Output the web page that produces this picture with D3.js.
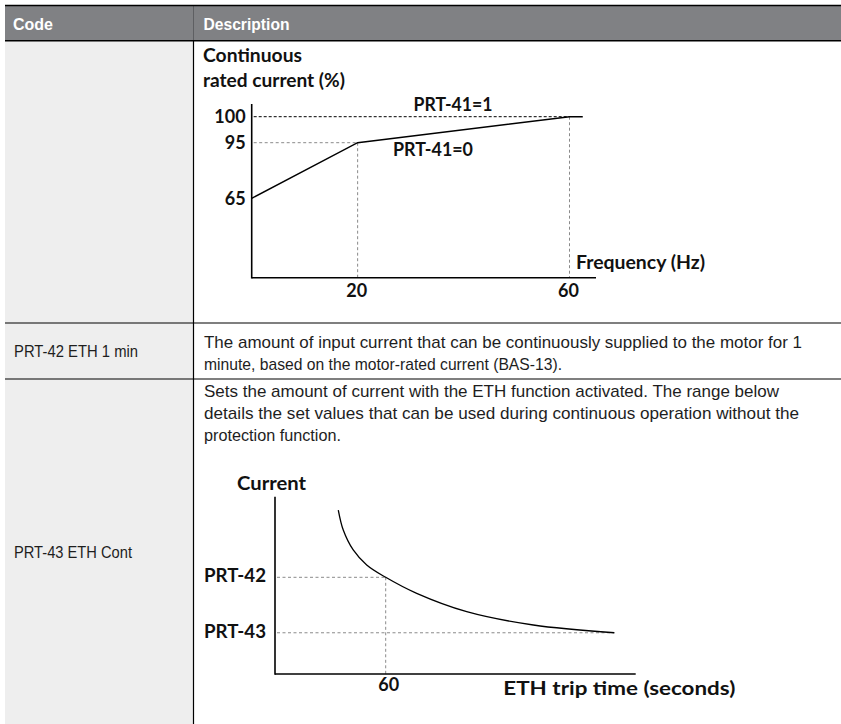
<!DOCTYPE html>
<html>
<head>
<meta charset="utf-8">
<script src="https://cdn.jsdelivr.net/npm/d3@7"></script>
<style>
html,body{margin:0;padding:0;background:#fff;}
svg{display:block;}
</style>
</head>
<body>
<script>
// ---------- DATA ----------
const tableHeaders = ["Code", "Description"];
const rowCodes = ["", "PRT-42 ETH 1 min", "PRT-43 ETH Cont"];
const row2Lines = [
  "The amount of input current that can be continuously supplied to the motor for 1",
  "minute, based on the motor-rated current (BAS-13)."
];
const row3Lines = [
  "Sets the amount of current with the ETH function activated. The range below",
  "details the set values that can be used during continuous operation without the",
  "protection function."
];

// chart 1: continuous rated current vs frequency
const freqHz = [0, 20, 60, 62.5];
const ratedPct = [65, 95, 100, 100];
const chart1YTicks = [65, 95, 100];
const chart1XTicks = [20, 60];
const chart1YTitle = ["Continuous", "rated current (%)"];
const chart1XTitle = "Frequency (Hz)";
const chart1Notes = ["PRT-41=1", "PRT-41=0"];

// chart 2: current vs ETH trip time
const tripTimeSec = [34.3, 37, 42.4, 49.7, 60, 76.8, 103.9, 140, 183.9];
const tripCurrentPct = [186.4, 175.6, 164.8, 156.7, 150, 141.3, 131.4, 124.2, 120];
const chart2YTicks = [150, 120];
const chart2YTickLabels = ["PRT-42", "PRT-43"];
const chart2XTicks = [60];
const chart2YTitle = "Current";
const chart2XTitle = "ETH trip time (seconds)";

// ---------- LAYOUT ----------
const W = 841, H = 724;
const svg = d3.select("body").append("svg").attr("width", W).attr("height", H);

const tableLeft = 5, colX = 193.5;
const headerTop = 5.5, headerBottom = 40.8;
const rowBounds = [headerBottom, 323, 379, H + 2];
const bodyFont = "'Liberation Sans', Arial, sans-serif";
const chartFont = "Lato, 'Open Sans', sans-serif";
const bodySize = 17;

// left column background
svg.append("rect").attr("x", tableLeft).attr("y", headerBottom).attr("width", colX - tableLeft)
  .attr("height", H - headerBottom).attr("fill", "#eeeeee");
// header
svg.append("rect").attr("x", tableLeft).attr("y", headerTop).attr("width", W - tableLeft)
  .attr("height", headerBottom - headerTop).attr("fill", "#808184");
svg.append("line").attr("x1", colX).attr("x2", colX).attr("y1", headerTop).attr("y2", headerBottom)
  .attr("stroke", "#5e5f62").attr("stroke-width", 1);
svg.append("line").attr("x1", tableLeft).attr("x2", W).attr("y1", headerTop).attr("y2", headerTop)
  .attr("stroke", "#000").attr("stroke-width", 1.4);
svg.append("line").attr("x1", tableLeft).attr("x2", W).attr("y1", headerBottom).attr("y2", headerBottom)
  .attr("stroke", "#000").attr("stroke-width", 1.6);
// column divider
svg.append("line").attr("x1", colX).attr("x2", colX).attr("y1", headerBottom).attr("y2", H)
  .attr("stroke", "#000").attr("stroke-width", 1.2);
// row separators
rowBounds.slice(1, 3).forEach(y => {
  svg.append("line").attr("x1", tableLeft).attr("x2", W).attr("y1", y).attr("y2", y)
    .attr("stroke", "#000").attr("stroke-width", 1.1);
});

// header text
const headerX = [13, 203.5], headerW = [40, 86];
svg.selectAll("text.hdr").data(tableHeaders).join("text").attr("class", "hdr")
  .attr("x", (d, i) => headerX[i]).attr("y", 29.5)
  .attr("font-family", bodyFont).attr("font-weight", "bold").attr("font-size", 16.5)
  .attr("fill", "#fff").attr("textLength", (d, i) => headerW[i]).attr("lengthAdjust", "spacingAndGlyphs")
  .text(d => d);

// code column text
const codeY = [0, 356.5, 558];
const codeW = [0, 124, 118];
rowCodes.forEach((c, i) => {
  if (!c) return;
  svg.append("text").attr("x", 14).attr("y", codeY[i])
    .attr("font-family", bodyFont).attr("font-size", bodySize).attr("fill", "#1e1e1e")
    .attr("textLength", codeW[i]).attr("lengthAdjust", "spacingAndGlyphs").text(c);
});

// description text
const row2W = [598, 358];
row2Lines.forEach((t, i) => {
  svg.append("text").attr("x", 204).attr("y", 347.5 + i * 22)
    .attr("font-family", bodyFont).attr("font-size", bodySize).attr("fill", "#1e1e1e")
    .attr("textLength", row2W[i]).attr("lengthAdjust", "spacingAndGlyphs").text(t);
});
const row3W = [575, 595, 137];
row3Lines.forEach((t, i) => {
  svg.append("text").attr("x", 204).attr("y", 396.5 + i * 22)
    .attr("font-family", bodyFont).attr("font-size", bodySize).attr("fill", "#1e1e1e")
    .attr("textLength", row3W[i]).attr("lengthAdjust", "spacingAndGlyphs").text(t);
});

// ---------- CHART 1 ----------
const c1 = {left: 251.7, right: 596, top: 104, bottom: 277.7};
const x1 = d3.scaleLinear().domain([0, 65]).range([c1.left, c1.right]);
const y1 = d3.scaleLinear().domain([65, 95, 100]).range([198.3, 142.7, 116.7]);
const g1 = svg.append("g");

// guides
g1.append("line").attr("x1", c1.left + 2).attr("x2", x1(60)).attr("y1", y1(100)).attr("y2", y1(100))
  .attr("stroke", "#000").attr("stroke-width", 1).attr("stroke-dasharray", "3,2");
g1.append("line").attr("x1", c1.left + 2).attr("x2", x1(20)).attr("y1", y1(95)).attr("y2", y1(95))
  .attr("stroke", "#8a8a8a").attr("stroke-width", 1).attr("stroke-dasharray", "3,2.5");
g1.append("line").attr("x1", x1(20)).attr("x2", x1(20)).attr("y1", y1(95)).attr("y2", c1.bottom)
  .attr("stroke", "#8a8a8a").attr("stroke-width", 1).attr("stroke-dasharray", "3,2.5");
g1.append("line").attr("x1", x1(60)).attr("x2", x1(60)).attr("y1", y1(100)).attr("y2", c1.bottom)
  .attr("stroke", "#8a8a8a").attr("stroke-width", 1).attr("stroke-dasharray", "3,2.5");

// axes
g1.append("line").attr("x1", c1.left).attr("x2", c1.left).attr("y1", c1.top).attr("y2", c1.bottom + 0.8)
  .attr("stroke", "#000").attr("stroke-width", 1.6);
g1.append("line").attr("x1", c1.left).attr("x2", c1.right).attr("y1", c1.bottom).attr("y2", c1.bottom)
  .attr("stroke", "#000").attr("stroke-width", 1.6);

// data line
const pts1 = freqHz.map((f, i) => [f, ratedPct[i]]);
g1.append("path").datum(pts1)
  .attr("d", d3.line().x(d => x1(d[0])).y(d => y1(d[1])))
  .attr("fill", "none").attr("stroke", "#000").attr("stroke-width", 1.4);

// tick labels
g1.selectAll("text.yt").data(chart1YTicks).join("text").attr("class", "yt")
  .attr("x", c1.left - 6).attr("y", d => y1(d)).attr("dy", "0.35em").attr("text-anchor", "end")
  .attr("font-family", chartFont).attr("font-weight", "bold").attr("font-size", 18).attr("fill", "#111")
  .text(d => d);
g1.selectAll("text.xt").data(chart1XTicks).join("text").attr("class", "xt")
  .attr("x", d => x1(d) - 1).attr("y", c1.bottom + 13).attr("dy", "0.35em").attr("text-anchor", "middle")
  .attr("font-family", chartFont).attr("font-weight", "bold").attr("font-size", 18).attr("fill", "#111")
  .text(d => d);

// titles
chart1YTitle.forEach((t, i) => {
  g1.append("text").attr("x", 203).attr("y", 56 + i * 24.5).attr("dy", "0.35em")
    .attr("font-family", chartFont).attr("font-weight", "bold").attr("font-size", 18).attr("fill", "#111")
    .attr("textLength", i === 0 ? 99 : 142).attr("lengthAdjust", "spacingAndGlyphs").text(t);
});
g1.append("text").attr("x", 576).attr("y", 263).attr("dy", "0.35em")
  .attr("font-family", chartFont).attr("font-weight", "bold").attr("font-size", 18).attr("fill", "#111")
  .attr("textLength", 129).attr("lengthAdjust", "spacingAndGlyphs").text(chart1XTitle);
g1.append("text").attr("x", 453).attr("y", 105).attr("dy", "0.35em").attr("text-anchor", "middle")
  .attr("font-family", chartFont).attr("font-weight", "bold").attr("font-size", 18).attr("fill", "#111")
  .attr("textLength", 79).attr("lengthAdjust", "spacingAndGlyphs").text(chart1Notes[0]);
g1.append("text").attr("x", 433).attr("y", 150).attr("dy", "0.35em").attr("text-anchor", "middle")
  .attr("font-family", chartFont).attr("font-weight", "bold").attr("font-size", 18).attr("fill", "#111")
  .attr("textLength", 80).attr("lengthAdjust", "spacingAndGlyphs").text(chart1Notes[1]);

// ---------- CHART 2 ----------
const c2 = {left: 275, right: 635.7, top: 496.7, bottom: 674};
const x2 = d3.scaleLinear().domain([0, 195.5]).range([c2.left, c2.right]);
const y2 = d3.scaleLinear().domain([97.7, 193.6]).range([c2.bottom, c2.top]);
const g2 = svg.append("g");

chart2YTicks.forEach((v, i) => {
  const xEnd = i === 0 ? x2(60) : x2(184);
  g2.append("line").attr("x1", c2.left + 2).attr("x2", xEnd).attr("y1", y2(v)).attr("y2", y2(v))
    .attr("stroke", "#8a8a8a").attr("stroke-width", 1).attr("stroke-dasharray", "3,2.5");
});
g2.append("line").attr("x1", x2(60)).attr("x2", x2(60)).attr("y1", y2(150)).attr("y2", c2.bottom)
  .attr("stroke", "#8a8a8a").attr("stroke-width", 1).attr("stroke-dasharray", "3,2.5");

g2.append("line").attr("x1", c2.left).attr("x2", c2.left).attr("y1", c2.top).attr("y2", c2.bottom + 0.8)
  .attr("stroke", "#000").attr("stroke-width", 1.6);
g2.append("line").attr("x1", c2.left).attr("x2", c2.right).attr("y1", c2.bottom).attr("y2", c2.bottom)
  .attr("stroke", "#000").attr("stroke-width", 1.6);

const pts2 = tripTimeSec.map((t, i) => [t, tripCurrentPct[i]]);
g2.append("path").datum(pts2)
  .attr("d", d3.line().curve(d3.curveCatmullRom.alpha(0.5)).x(d => x2(d[0])).y(d => y2(d[1])))
  .attr("fill", "none").attr("stroke", "#000").attr("stroke-width", 1.3);

g2.selectAll("text.yt").data(chart2YTicks).join("text").attr("class", "yt")
  .attr("x", c2.left - 9).attr("y", d => y2(d) - 1.5).attr("dy", "0.35em").attr("text-anchor", "end")
  .attr("font-family", chartFont).attr("font-weight", "bold").attr("font-size", 18).attr("fill", "#111")
  .attr("textLength", 62).attr("lengthAdjust", "spacingAndGlyphs")
  .text((d, i) => chart2YTickLabels[i]);
g2.selectAll("text.xt").data(chart2XTicks).join("text").attr("class", "xt")
  .attr("x", d => x2(d) + 3).attr("y", c2.bottom + 11).attr("dy", "0.35em").attr("text-anchor", "middle")
  .attr("font-family", chartFont).attr("font-weight", "bold").attr("font-size", 18).attr("fill", "#111")
  .text(d => d);
g2.append("text").attr("x", 237).attr("y", 483.3).attr("dy", "0.35em")
  .attr("font-family", chartFont).attr("font-weight", "bold").attr("font-size", 18).attr("fill", "#111")
  .attr("textLength", 69).attr("lengthAdjust", "spacingAndGlyphs").text(chart2YTitle);
g2.append("text").attr("x", 503.3).attr("y", 688.3).attr("dy", "0.35em")
  .attr("font-family", chartFont).attr("font-weight", "bold").attr("font-size", 18).attr("fill", "#111")
  .attr("textLength", 232).attr("lengthAdjust", "spacingAndGlyphs").text(chart2XTitle);
</script>
</body>
</html>
